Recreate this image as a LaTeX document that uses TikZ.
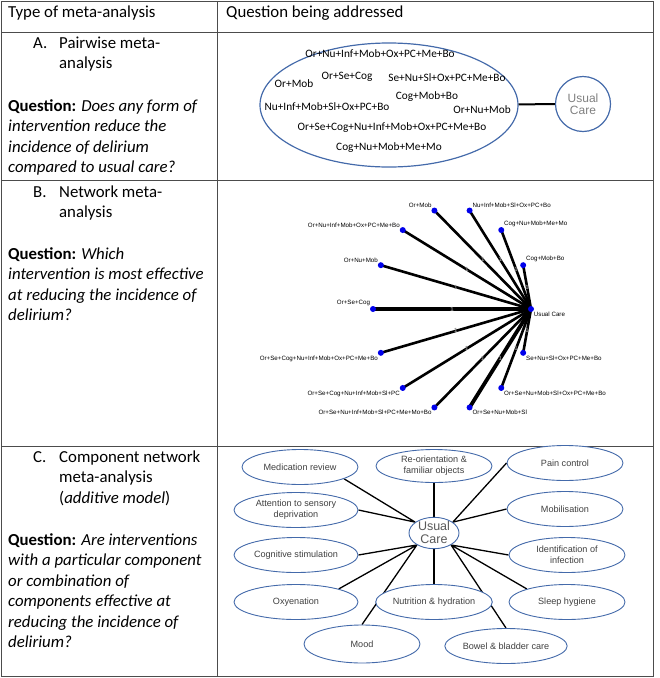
\documentclass[tikz,border=0pt]{standalone}
\usepackage{fontspec}
\setmainfont{Carlito}
\newfontfamily\arialfont{Liberation Sans}
\usetikzlibrary{shapes.geometric,backgrounds}
\definecolor{ovalblue}{RGB}{68,106,170}
\definecolor{netblue}{RGB}{0,0,235}
\newcommand\cellrows[1]{\begin{tabular}[t]{@{}l@{}}#1\end{tabular}}

\begin{document}
\begin{tikzpicture}[x=1pt,y=-1pt,
    cell/.style={anchor=base west,inner sep=0pt,font=\fontsize{16.8}{20.5}\selectfont},
    combo/.style={inner sep=0pt,font=\fontsize{11.3}{13}\selectfont},
    trt/.style={circle,fill=netblue,inner sep=0pt,minimum size=6pt},
    trtlab/.style={inner sep=0.5pt,font=\arialfont\fontsize{6.2}{7}\selectfont},
    nstud/.style={midway,inner sep=0pt,text=black!45,font=\arialfont\bfseries\fontsize{6}{6}\selectfont},
    comp/.style={ellipse,draw=ovalblue,line width=0.9pt,fill=white,minimum width=116pt,minimum height=35pt,inner sep=0pt,align=center,text=black!75,font=\arialfont\fontsize{9.1}{11}\selectfont},
    spoke/.style={line width=1.3pt}]

    \useasboundingbox (0,0) rectangle (660,678);
    \draw[black!70,line width=1pt] (1,1) rectangle (653,676) (217,1) -- (217,676)
        (1,32) -- (653,32) (1,180) -- (653,180) (1,446) -- (653,446);

    % left column
    \node[cell] (typ) at (8,17) {Type of meta-analysis};
    \node[cell] (qba) at (226,17) {Question being addressed};
    \node[cell] (Alet) at (33,48) {A.};
    \node[cell] (Atyp) at (59,48) {\cellrows{Pairwise meta-\\analysis}};
    \node[cell] (Aque) at (8,111) {\cellrows{\textbf{Question:} \textit{Does any form of}\\\textit{intervention reduce the}\\\textit{incidence of delirium}\\\textit{compared to usual care?}}};
    \node[cell] (Blet) at (33,197) {B.};
    \node[cell] (Btyp) at (59,197) {\cellrows{Network meta-\\analysis}};
    \node[cell] (Bque) at (8,259) {\cellrows{\textbf{Question:} \textit{Which}\\\textit{intervention is most effective}\\\textit{at reducing the incidence of}\\\textit{delirium?}}};
    \node[cell] (Clet) at (33,462) {C.};
    \node[cell] (Ctyp) at (59,462) {\cellrows{Component network\\meta-analysis\\(\textit{additive model})}};
    \node[cell] (Cque) at (8,545) {\cellrows{\textbf{Question:} \textit{Are interventions}\\\textit{with a particular component}\\\textit{or combination of}\\\textit{components effective at}\\\textit{reducing the incidence of}\\\textit{delirium?}}};

    % A: pairwise
    \node[ellipse,draw=ovalblue,line width=1.2pt,minimum width=258pt,minimum height=124pt] (pool) at (389,105) {};
    \node[circle,draw=ovalblue,line width=1.2pt,minimum size=55pt,inner sep=0pt,align=center,text=gray,font=\arialfont\fontsize{12}{12.5}\selectfont] (ucA) at (583,104) {Usual\\Care};
    \draw[line width=2pt] (pool) -- (ucA);
    \foreach \i/\x/\y/\txt in {1/380/54/Or+Nu+Inf+Mob+Ox+PC+Me+Bo, 2/294/84/Or+Mob, 3/347/77/Or+Se+Cog,
        4/447/78/Se+Nu+Sl+Ox+PC+Me+Bo, 5/327/107/Nu+Inf+Mob+Sl+Ox+PC+Bo, 6/427/97/Cog+Mob+Bo,
        7/482/110/Or+Nu+Mob, 8/392/128/Or+Se+Cog+Nu+Inf+Mob+Ox+PC+Me+Bo, 9/389/148/Cog+Nu+Mob+Me+Mo}
        \node[combo] (c\i) at (\x,\y) {\txt};

    % B: network
    \node[trt,label={[trtlab,name=luc]south east:Usual Care}] (uc) at (531,309) {};
    \foreach \k/\lab/\where in {1/Cog+Mob+Bo/north east, 2/Cog+Nu+Mob+Me+Mo/north east,
        3/Nu+Inf+Mob+Sl+Ox+PC+Bo/north east, 4/Or+Mob/north west, 5/Or+Nu+Inf+Mob+Ox+PC+Me+Bo/north west,
        6/Or+Nu+Mob/north west, 7/Or+Se+Cog/north west, 8/Or+Se+Cog+Nu+Inf+Mob+Ox+PC+Me+Bo/south west,
        9/Or+Se+Cog+Nu+Inf+Mob+Sl+PC/south west, 10/Or+Se+Nu+Inf+Mob+Sl+PC+Me+Mo+Bo/south west,
        11/Or+Se+Nu+Mob+Sl/south east, 12/Or+Se+Nu+Mob+Sl+Ox+PC+Me+Bo/south east,
        13/Se+Nu+Sl+Ox+PC+Me+Bo/south east}
        \node[trt,label={[trtlab,name=l\k]\where:\lab}] (n\k) at ({452+79*cos(\k*360/14)},{309-101*sin(\k*360/14)}) {};
    \begin{scope}[on background layer]
        \foreach \k/\w in {1/2.6,2/2.6,3/2.6,4/2.6,5/2.6,6/2.6,7/3.8,8/2.6,9/2.6,10/2.6,11/3.8,12/2.6,13/2.6}
            \draw[line width=\w pt] (uc.center) -- (n\k.center) node[nstud] {1};
    \end{scope}

    % C: component network
    \node[comp,minimum width=50pt,minimum height=30pt,text=black!65,font=\arialfont\fontsize{12.5}{13}\selectfont] (ucC) at (434,533) {Usual\\Care};
    \node[comp] (med) at (300,467) {Medication review};
    \node[comp,minimum height=33pt] (reo) at (434,466) {Re-orientation \&\\familiar objects};
    \node[comp] (pain) at (565,463) {Pain control};
    \node[comp,minimum width=124pt] (att) at (296,510) {Attention to sensory\\deprivation};
    \node[comp] (mob) at (565,509) {Mobilisation};
    \node[comp,minimum width=124pt] (cog) at (296,555) {Cognitive stimulation};
    \node[comp] (inf) at (567,555) {Identification of\\infection};
    \node[comp,minimum width=124pt] (oxy) at (296,602) {Oxyenation};
    \node[comp] (nut) at (434,602) {Nutrition \& hydration};
    \node[comp] (sleep) at (567,602) {Sleep hygiene};
    \node[comp,minimum height=38pt] (mood) at (362,644) {Mood};
    \node[comp] (bowel) at (506,646) {Bowel \& bladder care};
    \begin{scope}[on background layer]
        \draw[spoke] (ucC.150) -- (med.-15) (ucC.150) -- (att.east);
        \draw[spoke] (ucC.north) -- (reo.south) (ucC.south) -- (nut.north);
        \draw[spoke] (ucC.30) -- (pain.west) (ucC.30) -- (mob.west);
        \draw[spoke] (ucC.215) -- (cog.east) (ucC.215) -- (oxy.17) (ucC.215) -- (mood.north);
        \draw[spoke] (ucC.-35) -- (inf.west) (ucC.-35) -- (sleep.162) (ucC.-35) -- (bowel.north);
    \end{scope}
\end{tikzpicture}
\end{document}
